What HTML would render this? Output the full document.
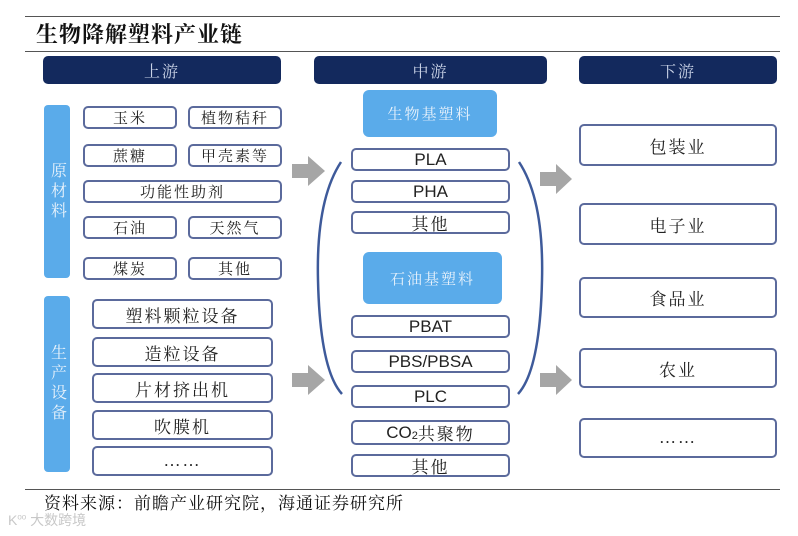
<!DOCTYPE html>
<html><head><meta charset="utf-8"><style>
body{margin:0;width:798px;height:536px;background:#fff;position:relative;overflow:hidden;font-family:"Liberation Serif","Noto Serif CJK SC",serif;}
div{position:absolute;box-sizing:border-box;}
.hd{background:#13295d;color:#c9d2e6;border-radius:5px;font-size:16px;display:flex;align-items:center;justify-content:center;letter-spacing:2px;}
.b{border:2px solid #5b6a9c;border-radius:5px;color:#222;font-size:15px;display:flex;align-items:center;justify-content:center;background:#fff;letter-spacing:2px;}
.lb{background:#5aabea;color:#e8f2fb;border-radius:6px;display:flex;align-items:center;justify-content:center;font-size:15px;letter-spacing:2px;}
.side{background:#5aabea;color:#e8f2fb;border-radius:4px;font-size:16px;display:flex;align-items:center;justify-content:center;writing-mode:vertical-rl;letter-spacing:4px;}
.en{font-family:"Liberation Sans",sans-serif;font-size:17px;letter-spacing:0;}
</style></head><body>
<div style="left:25px;top:16px;width:755px;height:1px;background:#555"></div>
<div style="left:36px;top:20px;font-size:22px;font-weight:bold;color:#111;font-family:'Liberation Serif','Noto Serif CJK SC',serif;line-height:30px;letter-spacing:1px">生物降解塑料产业链</div>
<div style="left:25px;top:51px;width:755px;height:1px;background:#555"></div>

<div class="hd" style="left:43px;top:56px;width:238px;height:28px">上游</div>
<div class="hd" style="left:314px;top:56px;width:233px;height:28px">中游</div>
<div class="hd" style="left:579px;top:56px;width:198px;height:28px">下游</div>

<div class="side" style="left:44px;top:105px;width:26px;height:173px">原材料</div>
<div class="side" style="left:44px;top:296px;width:26px;height:176px">生产设备</div>

<div class="b" style="left:83px;top:106px;width:94px;height:23px">玉米</div>
<div class="b" style="left:188px;top:106px;width:94px;height:23px">植物秸秆</div>
<div class="b" style="left:83px;top:144px;width:94px;height:23px">蔗糖</div>
<div class="b" style="left:188px;top:144px;width:94px;height:23px">甲壳素等</div>
<div class="b" style="left:83px;top:180px;width:199px;height:23px">功能性助剂</div>
<div class="b" style="left:83px;top:216px;width:94px;height:23px">石油</div>
<div class="b" style="left:188px;top:216px;width:94px;height:23px">天然气</div>
<div class="b" style="left:83px;top:257px;width:94px;height:23px">煤炭</div>
<div class="b" style="left:188px;top:257px;width:94px;height:23px">其他</div>

<div class="b" style="left:92px;top:299px;width:181px;height:30px;font-size:17px">塑料颗粒设备</div>
<div class="b" style="left:92px;top:337px;width:181px;height:30px;font-size:17px">造粒设备</div>
<div class="b" style="left:92px;top:373px;width:181px;height:30px;font-size:17px">片材挤出机</div>
<div class="b" style="left:92px;top:410px;width:181px;height:30px;font-size:17px">吹膜机</div>
<div class="b" style="left:92px;top:446px;width:181px;height:30px;font-size:17px">……</div>

<svg style="position:absolute;left:0;top:0" width="798" height="536">
<polygon points="292,164 308,164 308,156 325,171 308,186 308,178 292,178" fill="#a6a6a6"/>
<polygon points="292,373 308,373 308,365 325,380 308,395 308,387 292,387" fill="#a6a6a6"/>
<polygon points="540,172 556,172 556,164 572,179 556,194 556,186 540,186" fill="#a6a6a6"/>
<polygon points="540,373 556,373 556,365 572,380 556,395 556,387 540,387" fill="#a6a6a6"/>
<path d="M341,162 Q316,200 318,280 Q320,370 342,394" fill="none" stroke="#3e5a9a" stroke-width="2.5"/>
<path d="M519,162 Q544,200 542,280 Q540,370 518,394" fill="none" stroke="#3e5a9a" stroke-width="2.5"/>
</svg>

<div class="lb" style="left:363px;top:90px;width:134px;height:47px">生物基塑料</div>
<div class="b en" style="left:351px;top:148px;width:159px;height:23px">PLA</div>
<div class="b en" style="left:351px;top:180px;width:159px;height:23px">PHA</div>
<div class="b" style="left:351px;top:211px;width:159px;height:23px;font-size:17px">其他</div>
<div class="lb" style="left:363px;top:252px;width:139px;height:52px">石油基塑料</div>
<div class="b en" style="left:351px;top:315px;width:159px;height:23px">PBAT</div>
<div class="b en" style="left:351px;top:350px;width:159px;height:23px">PBS/PBSA</div>
<div class="b en" style="left:351px;top:385px;width:159px;height:23px">PLC</div>
<div class="b en" style="left:351px;top:420px;width:159px;height:25px">CO<sub style="font-size:11px;position:relative;top:3px">2</sub><span style="font-family:'Liberation Serif','Noto Serif CJK SC',serif;letter-spacing:2px">共聚物</span></div>
<div class="b" style="left:351px;top:454px;width:159px;height:23px;font-size:17px">其他</div>

<div class="b" style="left:579px;top:124px;width:198px;height:42px;font-size:17px">包装业</div>
<div class="b" style="left:579px;top:203px;width:198px;height:42px;font-size:17px">电子业</div>
<div class="b" style="left:579px;top:277px;width:198px;height:41px;font-size:17px">食品业</div>
<div class="b" style="left:579px;top:348px;width:198px;height:40px;font-size:17px">农业</div>
<div class="b" style="left:579px;top:418px;width:198px;height:40px;font-size:17px">……</div>

<div style="left:25px;top:489px;width:755px;height:1px;background:#555"></div>
<div style="left:44px;top:492px;font-size:17px;color:#111;line-height:24px;letter-spacing:1px">资料来源：前瞻产业研究院，海通证券研究所</div>
<div style="left:8px;top:510px;font-size:14px;color:#c8c8c8;font-family:'Liberation Sans','Noto Sans CJK SC',sans-serif">K<sup style="font-size:8px">oo</sup> 大数跨境</div>
</body></html>
